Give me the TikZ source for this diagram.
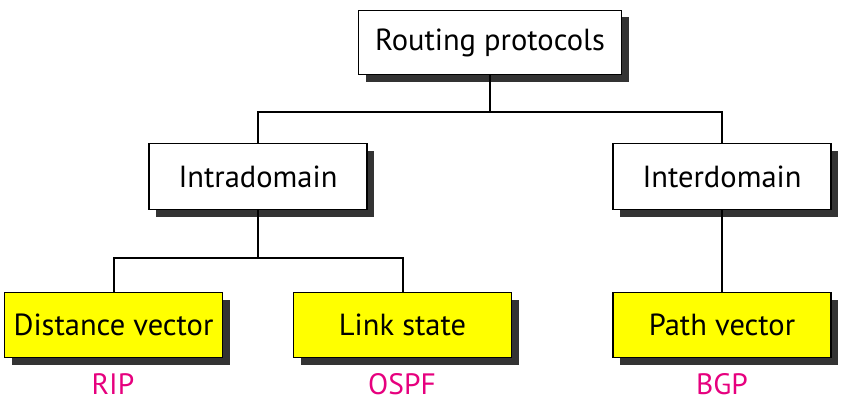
\documentclass[tikz,border=0pt]{standalone}
\usepackage{fontspec}
\setmainfont{PT Sans}
\usetikzlibrary{shadows}
\definecolor{boxyellow}{RGB}{255,255,0}
\definecolor{labelpink}{RGB}{230,0,126}
\definecolor{shadowgray}{RGB}{51,51,51}
\begin{document}
\begin{tikzpicture}[x=1pt,y=-1pt,
  box/.style={draw=black, line width=1.6pt, fill=white, minimum width=#1, inner sep=0pt,
    font=\fontsize{30.5}{34}\selectfont,
    drop shadow={shadow xshift=7pt, shadow yshift=-7pt, fill=shadowgray, opacity=1}},
  box/.default=218pt,
  leaf/.style={box=#1, fill=boxyellow},
  leaf/.default=218pt,
  conn/.style={line width=2pt},
  proto/.style={text=labelpink, font=\fontsize{29.5}{33}\selectfont}]
\useasboundingbox (0,0) rectangle (843,412);
\node[box=263pt, minimum height=64pt] (root) at (490,42.5) {Routing protocols};
\node[box, minimum height=66pt] (intra) at (258,176.5) {Intradomain};
\node[box, minimum height=66pt] (inter) at (722,176.5) {Interdomain};
\node[leaf, minimum height=65pt] (dv) at (113.5,325) {Distance vector};
\node[leaf, minimum height=65pt] (ls) at (402.5,325) {Link state};
\node[leaf, minimum height=65pt] (pv) at (722,325) {Path vector};
\node[proto] (rip) at (113,384) {RIP};
\node[proto] (ospf) at (402,384) {OSPF};
\node[proto] (bgp) at (722,384) {BGP};
\coordinate (j1) at (490,112);
\coordinate (j2) at (258,258);
\draw[conn] (root.south) -- (j1);
\draw[conn] (j1) -| (intra.north);
\draw[conn] (j1) -| (inter.north);
\draw[conn] (intra.south) -- (j2);
\draw[conn] (j2) -| (dv.north);
\draw[conn] (j2) -| (ls.north);
\draw[conn] (inter.south) -- (pv.north);
\end{tikzpicture}
\end{document}
